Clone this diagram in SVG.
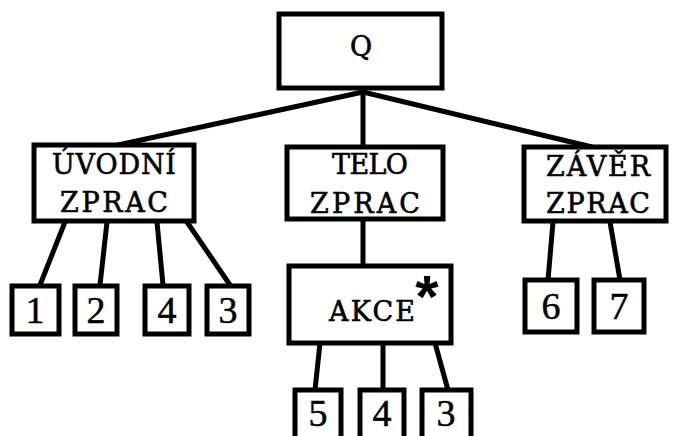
<svg xmlns="http://www.w3.org/2000/svg" width="683" height="436" viewBox="0 0 683 436">
<style>
.box{fill:#fff;stroke:#000;stroke-width:5}
.edge{stroke:#000;stroke-width:5;stroke-linecap:round;fill:none}
.t{font-family:"DejaVu Serif","Liberation Serif",serif;font-size:27px;fill:#000;text-anchor:middle;stroke:#000;stroke-width:0.6}
.d{font-family:"Liberation Serif","Times New Roman",serif;font-size:38px;fill:#000;text-anchor:middle;stroke:#000;stroke-width:0.5}
</style>
<rect width="683" height="436" fill="#fff"/>
<g id="connectors">
<line class="edge" x1="363" y1="92" x2="118" y2="145"/>
<line class="edge" x1="363" y1="92" x2="363" y2="147"/>
<line class="edge" x1="363" y1="92" x2="592" y2="147"/>
<line class="edge" x1="65" y1="222" x2="40" y2="285"/>
<line class="edge" x1="107" y1="222" x2="100" y2="285"/>
<line class="edge" x1="157" y1="222" x2="163" y2="285"/>
<line class="edge" x1="187" y1="222" x2="230" y2="285"/>
<line class="edge" x1="363" y1="220" x2="363" y2="266"/>
<line class="edge" x1="320" y1="343" x2="315" y2="390"/>
<line class="edge" x1="383" y1="343" x2="383" y2="390"/>
<line class="edge" x1="435" y1="343" x2="448" y2="390"/>
<line class="edge" x1="553" y1="222" x2="548" y2="280"/>
<line class="edge" x1="610" y1="222" x2="620" y2="280"/>
</g>
<g id="Q"><rect class="box" x="279" y="14" width="163" height="74"/><text class="t" x="361" y="56" font-size="30">Q</text></g>
<g id="uvodni"><rect class="box" x="34" y="145" width="160" height="76"/><text class="t" x="114" y="174" textLength="124" lengthAdjust="spacing">ÚVODNÍ</text><text class="t" x="114" y="212" textLength="108" lengthAdjust="spacing">ZPRAC</text></g>
<g id="telo"><rect class="box" x="287" y="147" width="156" height="72"/><text class="t" x="370" y="174" textLength="76" lengthAdjust="spacing">TELO</text><text class="t" x="365" y="213" textLength="110" lengthAdjust="spacing">ZPRAC</text></g>
<g id="zaver"><rect class="box" x="524" y="147" width="142" height="74"/><text class="t" x="598" y="176" textLength="104" lengthAdjust="spacing">ZÁVĚR</text><text class="t" x="598" y="213" textLength="104" lengthAdjust="spacing">ZPRAC</text></g>
<g id="akce"><rect class="box" x="289" y="266" width="162" height="77"/><text class="t" x="372" y="321" textLength="86" lengthAdjust="spacing">AKCE</text><text x="427" y="317" font-family="Liberation Sans,Arial,sans-serif" font-weight="bold" font-size="60" text-anchor="middle">*</text></g>
<g id="n1"><rect class="box" x="12" y="286" width="47" height="48"/><text class="d" x="35" y="323">1</text></g>
<g id="n2"><rect class="box" x="75" y="286" width="42" height="48"/><text class="d" x="96" y="323">2</text></g>
<g id="n4a"><rect class="box" x="145" y="286" width="44" height="48"/><text class="d" x="167" y="323">4</text></g>
<g id="n3a"><rect class="box" x="207" y="286" width="42" height="48"/><text class="d" x="228" y="323">3</text></g>
<g id="n5"><rect class="box" x="295" y="390" width="46" height="50"/><text class="d" x="318" y="426">5</text></g>
<g id="n4b"><rect class="box" x="360" y="390" width="44" height="50"/><text class="d" x="382" y="426">4</text></g>
<g id="n3b"><rect class="box" x="422" y="390" width="49" height="50"/><text class="d" x="446" y="426">3</text></g>
<g id="n6"><rect class="box" x="525" y="280" width="52" height="52"/><text class="d" x="551" y="319">6</text></g>
<g id="n7"><rect class="box" x="594" y="280" width="50" height="52"/><text class="d" x="619" y="319">7</text></g>
</svg>
